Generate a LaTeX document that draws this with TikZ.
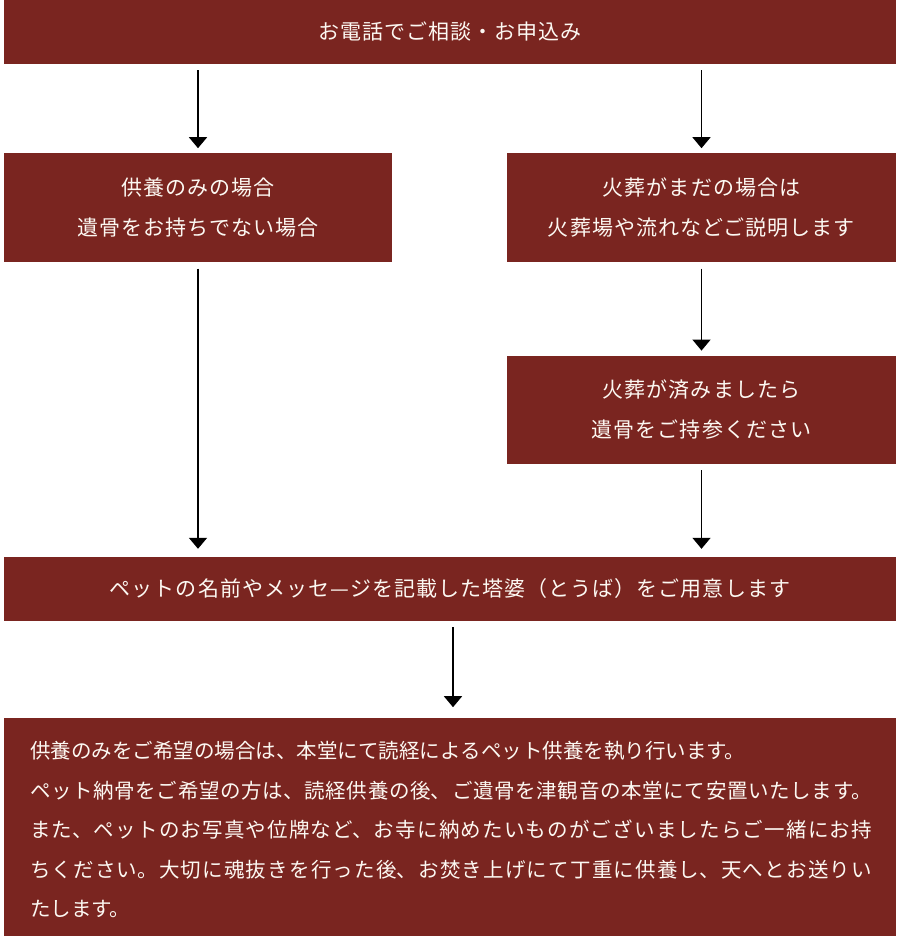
\documentclass[tikz,border=0pt]{standalone}
\usepackage{fontspec}
\usepackage{tikz}
\usetikzlibrary{arrows.meta,positioning}

\newfontfamily\jpfont{Noto Sans CJK JP}
\newfontfamily\jpboxfont[LetterSpace=5]{Noto Sans CJK JP}
\XeTeXlinebreaklocale "ja"
\XeTeXlinebreakskip=0pt plus 4pt

\definecolor{templered}{RGB}{122,37,32}
\definecolor{papercream}{RGB}{252,248,242}

\tikzset{
  stepbox/.style = {fill=templered, text=papercream, inner sep=0pt, align=center,
    font=\jpboxfont\fontsize{21}{40}\selectfont},
  notetext/.style = {text=papercream, inner sep=0pt, text width=842pt, align=justify,
    font=\jpfont\fontsize{20.5}{39.5}\selectfont},
  flow/.style = {-{Triangle[width=18pt,length=11pt]}, line width=1.5pt,
    shorten <=6pt, shorten >=5pt},
}

\begin{document}
\begin{tikzpicture}[x=1pt, y=-1pt]
    \useasboundingbox (0,0) rectangle (900,936);

    \node[stepbox, minimum width=892pt, minimum height=64pt] (call) at (450,32) {お電話でご相談・お申込み};
    \node[stepbox, minimum width=388pt, minimum height=109pt,
      below right = 89pt and 0pt of call.south west] (offer) {供養のみの場合\\遺骨をお持ちでない場合};
    \node[stepbox, minimum width=389pt, minimum height=109pt,
      below left = 89pt and 0pt of call.south east] (cremate) {火葬がまだの場合は\\火葬場や流れなどご説明します};
    \node[stepbox, minimum width=389pt, minimum height=108pt,
      below = 93pt of cremate] (done) {火葬が済みましたら\\遺骨をご持参ください};
    \node[stepbox, minimum width=892pt, minimum height=64pt] (toba) at (450,589) {ペットの名前やメッセ—ジを記載した塔婆（とうば）をご用意します};
    \node[stepbox, minimum width=892pt, minimum height=218pt,
      below = 97pt of toba] (note) {};

    \node[notetext, anchor=north west] (notebody) at ([xshift=26pt, yshift=-23pt]note.north west) {%
      供養のみをご希望の場合は、本堂にて読経によるペット供養を執り行います。\\
      ペット納骨をご希望の方は、読経供養の後、ご遺骨を津観音の本堂にて安置いたします。\linebreak
      また、ペットのお写真や位牌など、お寺に納めたいものがございましたらご一緒にお持\linebreak
      ちください。大切に魂抜きを行った後、お焚き上げにて丁重に供養し、天へとお送りい\linebreak
      たします。};

    \draw[flow] (offer.north |- call.south) -- (offer.north);
    \draw[flow] (cremate.north |- call.south) -- (cremate.north);
    \draw[flow] (cremate.south) -- (done.north);
    \draw[flow, shorten >=8pt] (offer.south) -- (offer.south |- toba.north);
    \draw[flow, shorten >=8pt] (done.south) -- (done.south |- toba.north);
    \draw[flow, shorten >=11pt] ([xshift=3pt]toba.south) -- ([xshift=3pt]toba.south |- note.north);
\end{tikzpicture}
\end{document}
